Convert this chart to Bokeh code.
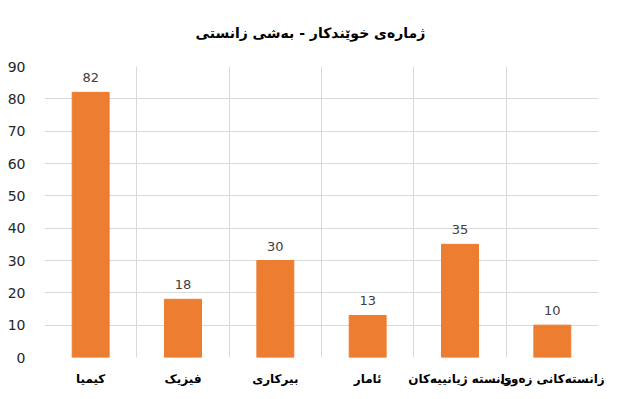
from bokeh.plotting import figure
from bokeh.models import ColumnDataSource, LabelSet, FixedTicker, Range1d
from bokeh.core.properties import value
from bokeh.embed import file_html
from bokeh.resources import INLINE

categories = ["کیمیا", "فیزیک", "بیرکاری", "ئامار", "زانستە ژیانییەکان", "زانستەکانی زەوی"]
values = [82, 18, 30, 13, 35, 10]
y_ticks = [0, 10, 20, 30, 40, 50, 60, 70, 80, 90]
title_text = "ژمارەی خوێندکار - بەشی زانستی"

n = len(categories)
xs = [i + 0.5 for i in range(n)]
src = ColumnDataSource(dict(x=xs, top=values, lbl=[str(v) for v in values]))

p = figure(width=617, height=399, output_backend="svg", toolbar_location=None,
           x_range=Range1d(0, n), y_range=Range1d(0, 90),
           min_border_left=44, min_border_right=19, min_border_top=66, min_border_bottom=42)
p.title.text = title_text
p.title.align = "left"
p.title.offset = 151
p.title.vertical_align = "top"
p.title.standoff = 47
p.title.text_font = "DejaVu Sans"
p.title.text_font_size = "14px"
p.title.text_font_style = "bold"
p.title.text_color = "#000000"

p.vbar(x="x", top="top", width=0.4, source=src, color="#ED7D31")

labels = LabelSet(x="x", y="top", text="lbl", source=src, text_align="center",
                  text_baseline="bottom", y_offset=10, text_font_size="13px",
                  text_color="#404040", text_font=value("DejaVu Sans"))
p.add_layout(labels)

p.xaxis.ticker = FixedTicker(ticks=xs)
p.xaxis.major_label_overrides = {x: c for x, c in zip(xs, categories)}
p.xaxis.major_label_text_font = "DejaVu Sans"
p.xaxis.major_label_text_font_style = "bold"
p.xaxis.major_label_text_font_size = "12px"
p.xaxis.major_label_text_color = "#000000"
p.xaxis.axis_line_color = None
p.xaxis.major_tick_line_color = None
p.xaxis.minor_tick_line_color = None
p.xaxis.major_label_standoff = 8

p.yaxis.ticker = FixedTicker(ticks=y_ticks)
p.yaxis.major_label_text_font = "DejaVu Sans"
p.yaxis.major_label_text_font_size = "14px"
p.yaxis.major_label_text_color = "#262626"
p.yaxis.axis_line_color = None
p.yaxis.major_tick_line_color = None
p.yaxis.minor_tick_line_color = None
p.yaxis.major_label_standoff = 13

p.xgrid.ticker = FixedTicker(ticks=list(range(n + 1)))
p.xgrid.grid_line_color = "#D9D9D9"
p.ygrid.grid_line_color = "#D9D9D9"
p.outline_line_color = None
p.background_fill_color = "white"
p.border_fill_color = "white"

open("out.html", "w").write(file_html(p, INLINE))
